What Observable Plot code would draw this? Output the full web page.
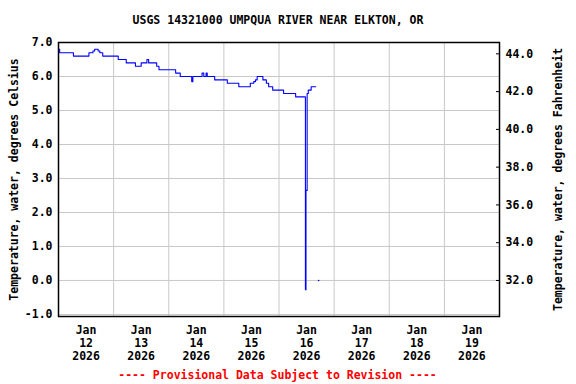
<!DOCTYPE html>
<html>
<head>
<meta charset="utf-8">
<script src="https://cdn.jsdelivr.net/npm/d3@7"></script>
<script src="https://cdn.jsdelivr.net/npm/@observablehq/plot@0.6"></script>
<style>
  html, body { margin: 0; padding: 0; background: #fff; }
  body { width: 576px; height: 384px; overflow: hidden; position: relative;
         font-family: "DejaVu Sans Mono", monospace; font-weight: bold; font-size: 11.5px; }
  #title { position: absolute; left: 0; top: 0; width: 556px; height: 30px; box-sizing: border-box;
           padding-top: 13px; line-height: 14px; text-align: center; color: #000; }
  #chart { position: absolute; left: 0; top: 30px; }
  #caption { position: absolute; left: 0; top: 366px; width: 555px; height: 18px; line-height: 18px;
             text-align: center; color: #ff0000; }
</style>
</head>
<body>
<div id="title">USGS 14321000 UMPQUA RIVER NEAR ELKTON, OR</div>
<div id="chart"></div>
<div id="caption">---- Provisional Data Subject to Revision ----</div>
<script>
// ---- data ----
const obsTimes = [
  "2026-01-12T00:00Z","2026-01-12T00:30Z","2026-01-12T06:30Z","2026-01-12T13:15Z","2026-01-12T15:00Z",
  "2026-01-12T15:45Z","2026-01-12T17:15Z","2026-01-12T18:00Z","2026-01-12T19:15Z","2026-01-13T02:00Z",
  "2026-01-13T05:30Z","2026-01-13T09:30Z","2026-01-13T12:00Z","2026-01-13T14:30Z","2026-01-13T15:15Z",
  "2026-01-13T18:45Z","2026-01-13T19:45Z","2026-01-14T03:00Z","2026-01-14T05:00Z","2026-01-14T10:00Z",
  "2026-01-14T10:30Z","2026-01-14T14:30Z","2026-01-14T15:15Z","2026-01-14T16:15Z","2026-01-14T16:45Z",
  "2026-01-14T20:00Z","2026-01-15T01:30Z","2026-01-15T06:30Z","2026-01-15T11:30Z","2026-01-15T13:00Z",
  "2026-01-15T13:45Z","2026-01-15T14:30Z","2026-01-15T17:00Z","2026-01-15T18:30Z","2026-01-15T19:30Z",
  "2026-01-15T21:15Z","2026-01-16T02:00Z","2026-01-16T07:15Z","2026-01-16T11:30Z","2026-01-16T11:45Z",
  "2026-01-16T12:15Z","2026-01-16T12:45Z","2026-01-16T14:00Z","2026-01-16T16:00Z"
];
const tempC = [
  6.8, 6.7, 6.6, 6.7, 6.75,
  6.8, 6.75, 6.7, 6.6, 6.5,
  6.4, 6.3, 6.4, 6.5, 6.4,
  6.3, 6.2, 6.1, 6.0, 5.85,
  6.0, 6.1, 6.0, 6.1, 6.0,
  5.9, 5.8, 5.7, 5.8, 5.85,
  5.9, 6.0, 5.9, 5.8, 5.7,
  5.6, 5.5, 5.4, -0.27, 2.65,
  5.5, 5.6, 5.7, 5.7
];
const isolatedTimes = ["2026-01-16T17:15Z"];
const isolatedTempC = [0.0];

const dayNoons = ["2026-01-12T12:00Z","2026-01-13T12:00Z","2026-01-14T12:00Z","2026-01-15T12:00Z",
                  "2026-01-16T12:00Z","2026-01-17T12:00Z","2026-01-18T12:00Z","2026-01-19T12:00Z"];
const monthLabels = ["Jan","Jan","Jan","Jan","Jan","Jan","Jan","Jan"];
const dayLabels = ["12","13","14","15","16","17","18","19"];
const yearLabels = ["2026","2026","2026","2026","2026","2026","2026","2026"];
const midnights = ["2026-01-13T00:00Z","2026-01-14T00:00Z","2026-01-15T00:00Z","2026-01-16T00:00Z",
                   "2026-01-17T00:00Z","2026-01-18T00:00Z","2026-01-19T00:00Z"];
const xDomain = ["2026-01-12T00:00Z","2026-01-20T00:00Z"];
const celsiusTicks = [-1, 0, 1, 2, 3, 4, 5, 6, 7];
const fahrenheitTicks = [32, 34, 36, 38, 40, 42, 44];
const yDomain = [-1.06, 7.0];

// ---- build ----
const series = obsTimes.map((t, i) => ({time: new Date(t), temp: tempC[i]}));
const isolated = isolatedTimes.map((t, i) => ({time: new Date(t), temp: isolatedTempC[i]}));
const noonDates = dayNoons.map(d => new Date(d));
const tickText = d => {
  const i = noonDates.findIndex(n => +n === +d);
  return `${monthLabels[i]}\n${dayLabels[i]}\n${yearLabels[i]}`;
};

const chart = Plot.plot({
  width: 576,
  height: 336,
  marginLeft: 58,
  marginRight: 77,
  marginTop: 12,
  marginBottom: 50,
  style: {fontFamily: "DejaVu Sans Mono, monospace", fontSize: "11.5px", fontWeight: "bold", background: "#fff", color: "#000"},
  x: {type: "utc", domain: xDomain.map(d => new Date(d))},
  y: {domain: yDomain},
  marks: [
    Plot.gridX(midnights.map(d => new Date(d)), {stroke: "#c8c8c8", strokeOpacity: 1}),
    Plot.gridY(celsiusTicks, {stroke: "#c8c8c8", strokeOpacity: 1}),
    Plot.line(series, {x: "time", y: "temp", curve: "step-after", stroke: "#0000ff", strokeWidth: 1.1}),
    Plot.dot(isolated, {x: "time", y: "temp", r: 0.8, fill: "#0000ff", stroke: null}),
    Plot.frame({stroke: "#000", strokeWidth: 1.5}),
    Plot.axisX(noonDates, {tickSize: 0, tickPadding: 8, tickFormat: tickText, lineHeight: 1.13, label: null, fill: "#000"}),
    Plot.axisY(celsiusTicks, {anchor: "left", tickSize: 0, tickPadding: 6, tickFormat: d => d.toFixed(1),
      label: "Temperature, water, degrees Celsius", labelAnchor: "center", labelArrow: "none", labelOffset: 48.5, fill: "#000"}),
    Plot.axisY(fahrenheitTicks.map(f => (f - 32) / 1.8), {anchor: "right", tickSize: -4, tickPadding: 10,
      tickFormat: c => (c * 1.8 + 32).toFixed(1),
      label: "Temperature, water, degrees Fahrenheit", labelAnchor: "center", labelArrow: "none", labelOffset: 62.5, fill: "#000"})
  ]
});
document.getElementById("chart").appendChild(chart);
</script>
</body>
</html>
